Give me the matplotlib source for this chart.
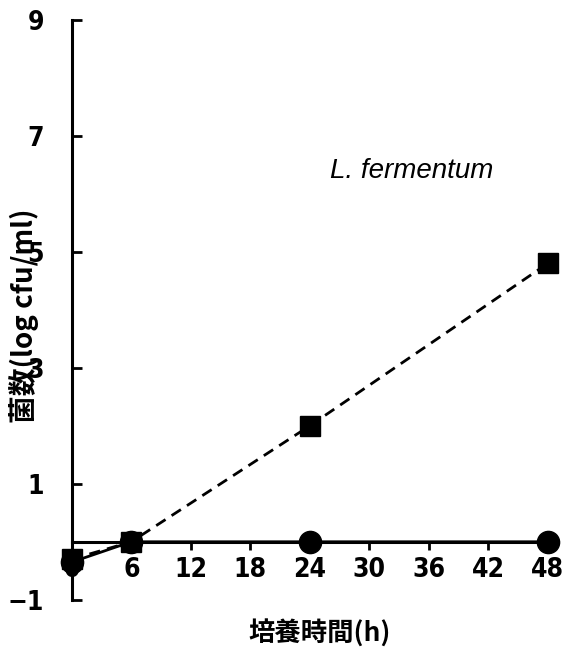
#!/usr/bin/env python3
"""Growth curve of L. fermentum: viable count versus culture time."""

import matplotlib
matplotlib.use("Agg")
import matplotlib.pyplot as plt
from matplotlib import font_manager

# culture time (h) and viable counts (log cfu/ml)
hours = [0, 6, 24, 48]
count_circle = [-0.35, 0.0, 0.0, 0.0]
count_square = [-0.3, 0.0, 2.0, 4.8]
x_ticks = [0, 6, 12, 18, 24, 30, 36, 42, 48]
y_ticks = [-1, 1, 3, 5, 7, 9]
species = "L. fermentum"
x_label = "培養時間(h)"
y_label = "菌数(log cfu/ml)"


def pick(families):
    names = {f.name for f in font_manager.fontManager.ttflist}
    return [f for f in families if f in names] or ["DejaVu Sans"]


NUM_FONT = pick(["Liberation Sans Narrow", "DejaVu Sans"])
CJK_FONT = pick(["Noto Sans CJK JP"]) + ["DejaVu Sans"]

fig = plt.figure(figsize=(5.7, 6.62), dpi=100)
ax = fig.add_axes([0.126, 0.094, 0.835, 0.876])

ax.plot(hours, count_circle, color="black", linewidth=2.0, marker="o",
        markersize=16, zorder=3, clip_on=False)
ax.plot(hours, count_square, color="black", linewidth=2.0, linestyle=(0, (4, 2.6)),
        marker="s", markersize=15, zorder=4, clip_on=False)

ax.set_xlim(0, 48)
ax.set_ylim(-1, 9)
ax.spines["top"].set_visible(False)
ax.spines["right"].set_visible(False)
ax.spines["bottom"].set_position(("data", 0))
ax.spines["left"].set_linewidth(2.2)
ax.spines["bottom"].set_linewidth(2.2)

ax.set_xticks(x_ticks)
ax.set_yticks(y_ticks)
ax.tick_params(axis="y", direction="in", length=7, width=2, pad=20)
ax.tick_params(axis="x", direction="out", length=6, width=2, pad=5)
for lab in ax.get_xticklabels() + ax.get_yticklabels():
    lab.set_family(NUM_FONT)
    lab.set_fontsize(19)
    lab.set_fontweight("bold")
    lab.set_fontstretch("condensed")

ax.text(26, 6.4, species, fontsize=20, style="italic", va="center",
        family=["Liberation Sans", "DejaVu Sans"])

ax.set_xlabel(x_label, family=CJK_FONT, fontsize=19, fontweight="bold")
ax.xaxis.set_label_coords(0.52, -0.035)
ax.set_ylabel(y_label, family=CJK_FONT, fontsize=20, fontweight="bold")
ax.yaxis.set_label_coords(-0.068, 0.49)

fig.savefig("out.png", dpi=100, facecolor="white")
